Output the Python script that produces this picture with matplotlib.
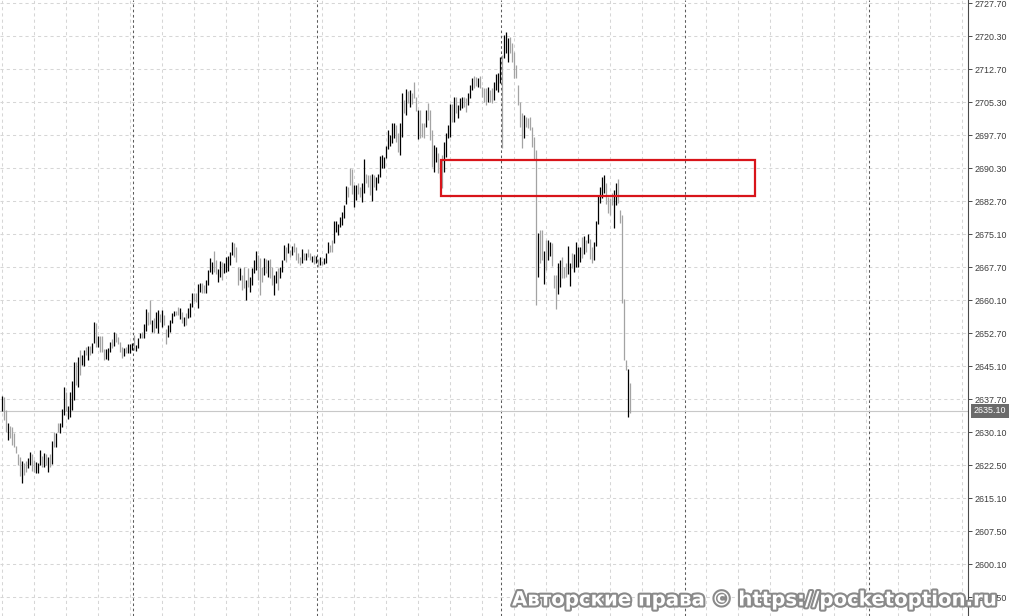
import matplotlib
matplotlib.use('Agg')
import matplotlib.pyplot as plt
import matplotlib.patheffects as pe
import matplotlib.transforms as mtransforms
from matplotlib.patches import Rectangle

# bar highs / lows, one per bar, oldest first
highs = [
    2638.4, 2638.2, 2635.3, 2632.3, 2631.6, 2631.4, 2630.0, 2627.1, 2625.3, 2624.6,
    2623.7, 2623.2, 2623.7, 2624.4, 2625.7, 2625.3, 2623.9, 2623.5, 2623.2, 2626.2,
    2624.8, 2625.5, 2625.3, 2624.6, 2625.3, 2628.2, 2630.3, 2630.0, 2632.3, 2632.3,
    2635.5, 2640.5, 2639.4, 2636.2, 2639.4, 2641.9, 2646.2, 2646.2, 2647.3, 2648.9,
    2647.8, 2648.9, 2649.6, 2649.8, 2649.8, 2650.5, 2655.3, 2655.0, 2652.1, 2652.1,
    2652.1, 2649.1, 2649.1, 2649.3, 2650.7, 2651.4, 2653.0, 2652.8, 2651.9, 2650.7,
    2649.6, 2649.3, 2649.6, 2650.3, 2650.3, 2650.5, 2652.3, 2650.0, 2651.6, 2652.8,
    2653.0, 2654.8, 2658.2, 2657.5, 2660.3, 2655.7, 2656.2, 2657.5, 2658.0, 2657.1,
    2658.0, 2656.9, 2653.7, 2654.6, 2655.7, 2657.3, 2657.8, 2657.8, 2658.7, 2658.5,
    2657.5, 2656.4, 2657.3, 2658.5, 2659.6, 2661.9, 2661.9, 2661.9, 2663.9, 2664.1,
    2664.1, 2663.7, 2664.8, 2667.1, 2669.8, 2668.9, 2671.4, 2669.4, 2667.3, 2669.1,
    2668.9, 2668.6, 2670.0, 2670.2, 2671.2, 2673.4, 2673.2, 2672.3, 2667.8, 2667.5,
    2665.9, 2667.8, 2664.8, 2667.5, 2665.5, 2667.5, 2669.4, 2671.4, 2670.5, 2669.8,
    2667.8, 2669.8, 2669.6, 2669.4, 2669.6, 2667.8, 2665.9, 2666.8, 2667.5, 2667.8,
    2669.4, 2672.8, 2672.3, 2673.2, 2671.6, 2672.5, 2673.2, 2672.3, 2670.9, 2670.0,
    2671.8, 2670.9, 2670.9, 2671.8, 2670.9, 2670.3, 2670.5, 2670.3, 2669.6, 2670.0,
    2669.1, 2669.8, 2670.9, 2673.4, 2672.8, 2673.9, 2678.2, 2678.2, 2677.5, 2679.1,
    2680.3, 2681.9, 2686.2, 2685.9, 2690.3, 2690.0, 2686.4, 2686.4, 2686.8, 2685.9,
    2686.8, 2692.3, 2688.9, 2688.7, 2688.7, 2688.9, 2688.7, 2688.2, 2688.9, 2693.0,
    2693.2, 2692.8, 2695.3, 2698.9, 2697.8, 2700.5, 2700.5, 2700.0, 2698.2, 2700.5,
    2707.3, 2705.7, 2708.2, 2707.8, 2708.0, 2707.3, 2709.8, 2706.4, 2703.5, 2703.5,
    2700.5, 2700.5, 2703.5, 2705.0, 2703.5, 2698.9, 2695.5, 2695.0, 2693.7, 2691.4,
    2693.2, 2696.2, 2698.2, 2700.0, 2704.8, 2704.8, 2706.4, 2706.4, 2704.6, 2706.2,
    2706.4, 2706.4, 2706.2, 2707.3, 2709.1, 2710.7, 2711.2, 2710.9, 2710.7, 2711.2,
    2708.7, 2708.5, 2708.5, 2708.7, 2708.0, 2708.5, 2709.8, 2711.6, 2711.9, 2715.5,
    2716.0, 2720.5, 2721.2, 2719.8, 2720.0, 2718.7, 2716.6, 2713.7, 2709.1, 2705.3,
    2702.8, 2702.3, 2701.9, 2701.6, 2701.9, 2699.6, 2697.3, 2694.4, 2675.5, 2676.2,
    2676.2, 2671.4, 2673.9, 2673.9, 2673.4, 2673.2, 2665.9, 2665.9, 2668.6, 2669.4,
    2670.0, 2667.8, 2668.6, 2672.5, 2668.6, 2670.9, 2670.7, 2673.4, 2672.3, 2672.3,
    2674.6, 2674.8, 2673.9, 2675.3, 2674.1, 2672.3, 2673.4, 2678.2, 2684.1, 2685.9,
    2688.2, 2688.7, 2686.8, 2683.7, 2683.5, 2684.6, 2685.3, 2686.8, 2687.8, 2680.7,
    2679.6, 2660.5, 2646.6, 2644.6, 2641.4,
]
lows = [
    2635.0, 2633.0, 2630.3, 2628.4, 2628.9, 2627.3, 2626.8, 2625.5, 2622.8, 2620.3,
    2618.7, 2620.5, 2621.2, 2622.1, 2622.8, 2621.4, 2621.2, 2621.0, 2621.0, 2622.8,
    2622.3, 2622.3, 2622.8, 2621.2, 2622.3, 2623.0, 2626.8, 2626.8, 2630.3, 2630.0,
    2631.4, 2634.1, 2635.0, 2633.2, 2633.7, 2635.3, 2637.5, 2641.0, 2640.5, 2643.2,
    2645.5, 2645.3, 2647.8, 2646.6, 2647.8, 2648.2, 2650.5, 2649.6, 2649.6, 2648.5,
    2648.5, 2646.6, 2646.9, 2646.6, 2648.5, 2649.3, 2649.8, 2650.7, 2650.3, 2648.5,
    2647.1, 2647.5, 2648.2, 2648.2, 2648.2, 2648.9, 2648.9, 2648.7, 2649.3, 2651.6,
    2651.6, 2651.6, 2653.2, 2654.6, 2654.8, 2653.0, 2652.8, 2653.9, 2652.8, 2655.3,
    2654.1, 2654.6, 2650.3, 2651.9, 2653.0, 2655.0, 2656.6, 2656.9, 2656.9, 2656.0,
    2655.0, 2654.4, 2654.6, 2656.2, 2656.4, 2658.7, 2660.0, 2659.8, 2658.5, 2662.1,
    2661.9, 2661.9, 2661.9, 2663.7, 2666.6, 2666.2, 2666.6, 2666.2, 2664.4, 2665.5,
    2664.8, 2666.4, 2666.6, 2666.8, 2668.2, 2670.5, 2670.0, 2668.9, 2663.7, 2664.8,
    2662.5, 2663.0, 2660.3, 2663.2, 2662.1, 2663.7, 2666.4, 2667.1, 2664.8, 2661.4,
    2664.4, 2665.9, 2666.4, 2665.5, 2665.3, 2663.7, 2661.4, 2664.1, 2662.5, 2665.3,
    2666.6, 2669.4, 2668.9, 2670.9, 2670.0, 2670.5, 2671.2, 2669.4, 2668.6, 2668.2,
    2668.6, 2669.4, 2669.4, 2670.0, 2669.4, 2668.9, 2668.4, 2668.6, 2667.8, 2668.2,
    2668.2, 2668.4, 2668.6, 2670.9, 2671.2, 2671.2, 2673.2, 2675.7, 2675.0, 2676.8,
    2677.3, 2678.9, 2682.1, 2683.7, 2686.4, 2684.3, 2681.4, 2683.0, 2684.3, 2683.7,
    2682.5, 2684.6, 2686.8, 2685.9, 2684.1, 2682.8, 2685.9, 2685.3, 2686.8, 2688.2,
    2690.3, 2690.3, 2692.5, 2694.6, 2695.3, 2696.0, 2697.1, 2696.2, 2693.9, 2693.2,
    2697.3, 2702.8, 2702.3, 2705.0, 2704.1, 2704.8, 2706.2, 2703.2, 2696.9, 2697.1,
    2697.3, 2697.1, 2699.6, 2701.2, 2696.6, 2690.5, 2689.4, 2691.6, 2689.1, 2688.0,
    2685.7, 2689.4, 2692.8, 2697.1, 2697.3, 2700.7, 2700.7, 2702.8, 2701.6, 2703.5,
    2703.9, 2704.1, 2703.0, 2704.6, 2706.2, 2708.0, 2708.5, 2708.9, 2708.7, 2708.5,
    2706.4, 2705.3, 2704.6, 2705.3, 2705.3, 2705.0, 2705.7, 2708.0, 2707.5, 2709.6,
    2694.8, 2715.3, 2716.4, 2714.4, 2716.4, 2714.4, 2710.7, 2710.7, 2704.6, 2699.6,
    2694.8, 2697.1, 2699.6, 2699.4, 2698.9, 2695.0, 2692.1, 2659.1, 2665.5, 2668.6,
    2669.4, 2663.9, 2667.1, 2669.4, 2670.3, 2668.0, 2663.0, 2658.2, 2661.6, 2663.2,
    2665.3, 2665.3, 2665.5, 2666.2, 2663.4, 2667.5, 2666.6, 2667.8, 2667.8, 2668.9,
    2669.8, 2670.7, 2671.2, 2673.2, 2669.6, 2668.6, 2669.4, 2672.5, 2677.5, 2682.3,
    2683.5, 2684.6, 2682.1, 2680.0, 2679.6, 2681.9, 2676.6, 2681.9, 2682.3, 2677.8,
    2659.6, 2646.6, 2644.4, 2633.7, 2634.6,
]
# B = bull bar (black), G = bear bar (gray)
bar_dir = (
    "BGGBGGGGGG" "BGGBBGGBBB" "GBGBGBGBGB" "BBGBBBBGBG" "BBGBGBBGBG"
    "GGBBBGBGGG" "GBGBBBGBBB" "GBBGGBGBBG" "BGGBBBBGGB" "GBGBBBGGBB"
    "GGBBBBGGBB" "GBBBBBGGGB" "GGBGBBBBGG" "GBGBGGBBGB" "BBGBGBGGGG"
    "BGBGGBGBGB" "GBBBGGBBBB" "BBBGGGBBGG" "BBGGGBGBBB" "BBBBBBBGGB"
    "BGBGBGGGBG" "GGBGGGBBGG" "GBBBBGBGBB" "BGGBBBGGBG" "GGGBGGBBBB"
    "GBBBGGGGGG" "GBGGGGGGBG" "GBGBBGGGBB" "GGGBBGBBBB" "GBGBGGBBBB"
    "BBGGGGBBGG" "GGGBG"
)

price_labels = ['2727.70', '2720.30', '2712.70', '2705.30', '2697.70', '2690.30',
                '2682.70', '2675.10', '2667.70', '2660.10', '2652.70', '2645.10',
                '2637.70', '2630.10', '2622.50', '2615.10', '2607.50', '2600.10',
                '2592.50']
last_price = 2635.10

# resistance zone drawn on the chart
zone_bars = (219.6, 376.6)
zone_prices = (2683.9, 2692.1)

watermark = 'Авторские права © https://pocketoption.ru'

plt.rcParams['font.family'] = ['Liberation Sans', 'DejaVu Sans']

fig = plt.figure(figsize=(10.1, 6.16), dpi=100)
ax = fig.add_axes([0, 0, 968 / 1010, 1])

n = len(highs)
xs = list(range(n))
colors = ['#000000' if d == 'B' else '#a3a3a3' for d in bar_dir]

ax.set_xlim(-0.85, 483.15)
ax.set_ylim(2588.45, 2728.45)

# light grid every 16 bars / every price step
tick_pos = [2727.7 - 7.5 * k for k in range(len(price_labels))]
for k in range(31):
    ax.axvline(16 * k, color='#d6d6d6', lw=0.75, ls=(0, (3, 3)), zorder=0)
for p in tick_pos:
    ax.axhline(p, color='#d6d6d6', lw=0.75, ls=(0, (3, 3)), zorder=0)
# period separators
for k in range(5):
    ax.axvline(65.65 + 92 * k, color='#5c5c5c', lw=0.75, ls=(0, (2.5, 2.5)), zorder=1)

ax.axhline(last_price, color='#c8c8c8', lw=0.8, zorder=1)

ax.vlines(xs, lows, highs, colors=colors, lw=0.9, zorder=3)

ax.add_patch(Rectangle((zone_bars[0], zone_prices[0]), zone_bars[1] - zone_bars[0],
                       zone_prices[1] - zone_prices[0], fill=False,
                       ec='#d8141a', lw=1.6, zorder=4))

for side in ['top', 'left', 'bottom']:
    ax.spines[side].set_visible(False)
ax.spines['right'].set_color('#4a4a4a')
ax.spines['right'].set_linewidth(0.8)
ax.set_xticks([])
ax.set_yticks(tick_pos)
ax.set_yticklabels(price_labels)
ax.yaxis.tick_right()
ax.tick_params(axis='y', length=3, width=0.7, color='#4a4a4a', labelsize=6.4,
               labelcolor='#3c3c3c', pad=1.5)

trans = mtransforms.blended_transform_factory(ax.transAxes, ax.transData)
ax.text(1.006, last_price, '%.2f' % last_price, transform=trans, ha='left', va='center',
        fontsize=6.4, color='white', zorder=6,
        bbox=dict(boxstyle='square,pad=0.3', fc='#6b6b6b', ec='none'))

# watermark sits over the bottom of the chart and the price scale
fig.text(755 / 1010, 1 - 600 / 616, watermark, ha='center', va='center',
         fontsize=14.2, fontweight='bold', color='white', family='DejaVu Sans',
         path_effects=[pe.withStroke(linewidth=3, foreground='#8a8a8a')])

fig.savefig('out.png', dpi=100)
